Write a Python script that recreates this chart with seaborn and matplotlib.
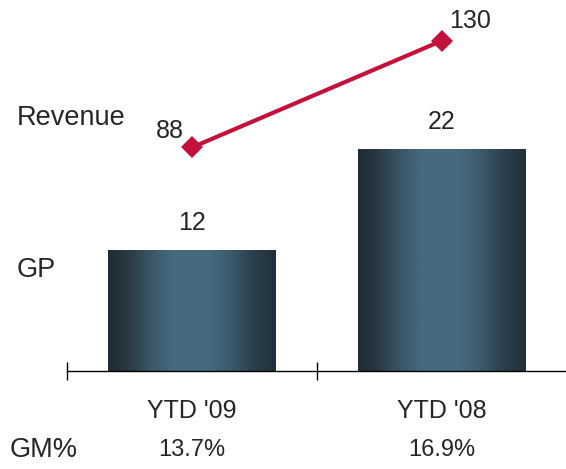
import numpy as np
import matplotlib
matplotlib.use("Agg")
import matplotlib.pyplot as plt
from matplotlib.colors import LinearSegmentedColormap
from matplotlib.transforms import blended_transform_factory
import seaborn as sns

# data
categories = ["YTD '09", "YTD '08"]
gp = [12, 22]
revenue = [88, 130]
gm_pct = ["13.7%", "16.9%"]

sns.set_style("white")
plt.rcParams['font.family'] = ['Liberation Sans', 'DejaVu Sans']
txt_color = "#262626"
red = "#C4113C"
fs = 18

fig = plt.figure(figsize=(5.66, 4.69), dpi=100)
ax = fig.add_axes([67/566, 98/469, 499/566, 371/469])

pos = list(range(len(categories)))
sns.barplot(x=pos, y=gp, ax=ax, color="#3b5a6c", width=0.672,
            native_scale=True, saturation=1, linewidth=0)

# cylinder-ish shading on the bars
shade = LinearSegmentedColormap.from_list("shade", [
    (0.0, "#1f2c35"), (0.1, "#27363f"), (0.25, "#3a5566"), (0.38, "#466a7e"),
    (0.6, "#466a7e"), (0.72, "#3d5c6e"), (0.87, "#2c3f4b"), (1.0, "#21303a")])
grad = np.linspace(0, 1, 256).reshape(1, -1)
for p in list(ax.patches):
    x0, y0 = p.get_x(), p.get_y()
    w, h = p.get_width(), p.get_height()
    im = ax.imshow(grad, cmap=shade, aspect="auto",
                   extent=(x0, x0 + w, y0, y0 + h), zorder=p.get_zorder() + 0.1)
    im.set_clip_path(p)

ax.set_xlim(-0.5, 1.496)
ax.set_ylim(0, 36.7)
for s in ["top", "left", "right"]:
    ax.spines[s].set_visible(False)
ax.spines["bottom"].set_color("black")
ax.spines["bottom"].set_linewidth(1.0)
ax.set_yticks([])
ax.set_xticks(pos)
ax.set_xticklabels(categories, fontsize=fs, color=txt_color)
ax.set_xticks([-0.5, 0.5], minor=True)
ax.tick_params(axis="x", which="major", length=0, pad=20)
ax.tick_params(axis="x", which="minor", bottom=True, direction="inout",
               length=13, width=1, color="black")
ax.set_xlabel("")
ax.set_ylabel("")

for i, v in enumerate(gp):
    ax.annotate(str(v), (pos[i], v), xytext=(0, 19), textcoords="offset points",
                ha="center", va="center", fontsize=fs, color=txt_color)

# revenue line on its own scale
ax2 = ax.twinx()
sns.lineplot(x=pos, y=revenue, ax=ax2, color=red, linewidth=3,
             marker="D", markersize=11, markeredgewidth=0, sort=False)
ax2.set_ylim(0, 146)
ax2.set_xlim(-0.5, 1.496)
ax2.axis("off")
ax2.annotate(str(revenue[0]), (pos[0], revenue[0]), xytext=(-16, 12),
             textcoords="offset points", ha="center", va="center",
             fontsize=fs, color=txt_color)
ax2.annotate(str(revenue[1]), (pos[1], revenue[1]), xytext=(20, 14),
             textcoords="offset points", ha="center", va="center",
             fontsize=fs, color=txt_color)

# row labels
fig.text(17/566, 1 - 118/469, "Revenue", fontsize=19.5, color=txt_color, va="center")
fig.text(17/566, 1 - 270/469, "GP", fontsize=19.5, color=txt_color, va="center")
fig.text(10/566, 1 - 450/469, "GM%", fontsize=19.5, color=txt_color, va="center")
tr = blended_transform_factory(ax.transData, fig.transFigure)
for i, g in enumerate(gm_pct):
    ax.text(pos[i], 1 - 450/469, g, transform=tr, ha="center", va="center",
            fontsize=fs - 1, color=txt_color)

fig.savefig("out.png", dpi=100)
